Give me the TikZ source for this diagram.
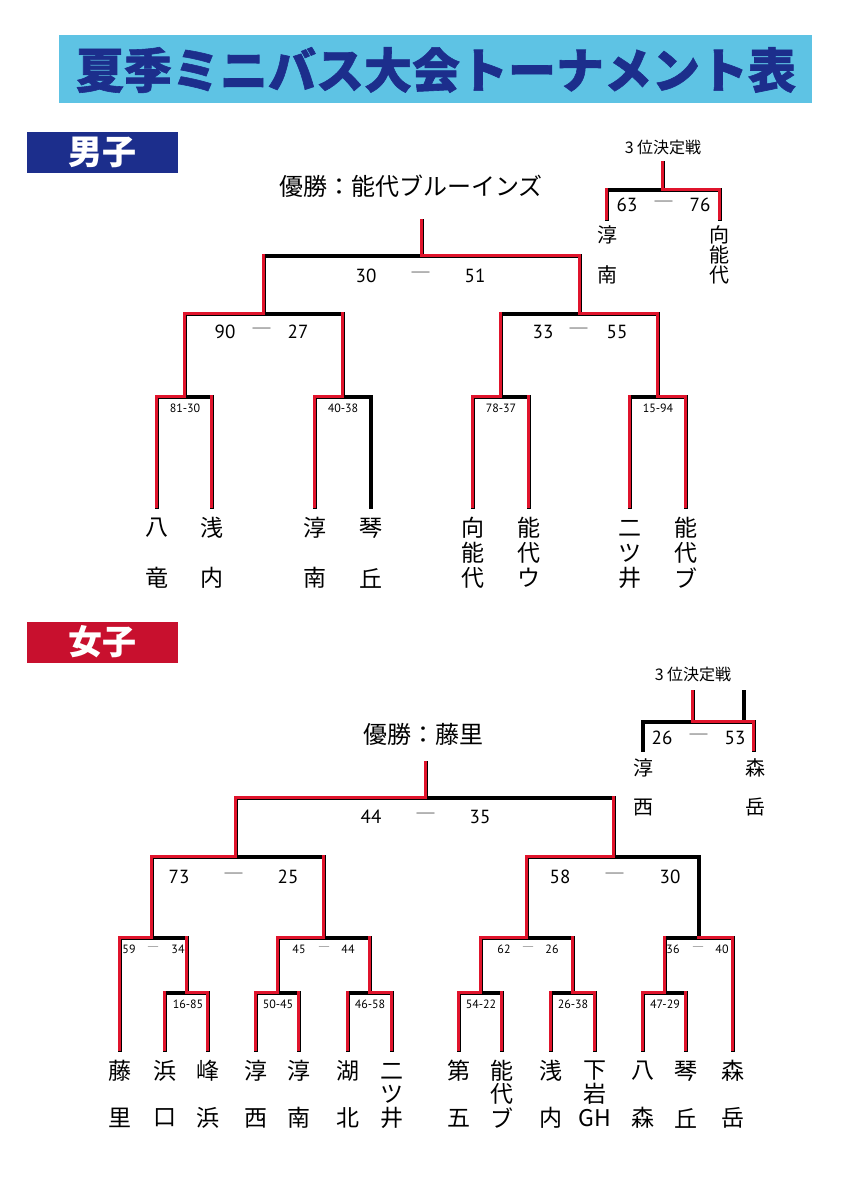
\documentclass[tikz,border=0pt]{standalone}
\usepackage{fontspec}
\setmainfont{Noto Sans CJK JP}
\newfontfamily\numfont{PT Sans}
\newfontfamily\titlefont[BoldFeatures={FakeBold=1.2}]{Noto Sans CJK JP}
\definecolor{titlebg}{HTML}{5EC3E4}
\definecolor{navy}{HTML}{1C2E8C}
\definecolor{crimson}{HTML}{C8102E}
\definecolor{lred}{HTML}{E0142C}
\definecolor{dashgray}{HTML}{5A5A5A}
\newcommand\vnII[6]{\node[nm] (#1a) at (#2,#3) {#4};\node[nm] (#1b) at (#2,#5) {#6};}
\begin{document}
\begin{tikzpicture}[x=1pt,y=-1pt,
  blk/.style={line width=4pt,black,line cap=rect,line join=miter},
  rd/.style={line width=3.4pt,lred,line cap=rect,line join=miter,shift={(-0.7,-0.7)}},
  nm/.style={font=\fontsize{23}{23}\selectfont,inner sep=0pt},
  nms/.style={font=\fontsize{20}{20}\selectfont,inner sep=0pt},
  sc/.style={font=\numfont\fontsize{19}{19}\selectfont,inner sep=0pt},
  ss/.style={font=\numfont\fontsize{12}{12}\selectfont,inner sep=0pt},
  dsh/.style={text=dashgray,font=\fontsize{21}{21}\selectfont,inner sep=0pt},
  dshs/.style={text=dashgray,font=\fontsize{12}{12}\selectfont,inner sep=0pt},
  champ/.style={font=\fontsize{24}{24}\selectfont,inner sep=0pt},
  third/.style={font=\fontsize{16}{16}\selectfont,inner sep=0pt},
  hdr/.style={font=\bfseries\fontsize{34}{34}\selectfont,text=white,inner sep=0pt}]
\useasboundingbox (0,0) rectangle (842,1191);
\fill[white] (0,0) rectangle (842,1191);
% title
\fill[titlebg] (59,35) rectangle (812,103);
\node[font=\titlefont\bfseries\fontsize{48}{48}\selectfont,text=navy,inner sep=0pt] (title) at (436,70) {夏季ミニバス大会トーナメント表};
% headers
\fill[navy] (27,132) rectangle (178,173);
\node[hdr] (boys) at (102,152) {男子};
\fill[crimson] (27,622) rectangle (178,663);
\node[hdr] (girls) at (102,642) {女子};

% ================= BOYS =================
\draw[blk] (157,507) |- (212,397) -- (212,507);  \draw[blk] (185,397) -- (185,314);
\draw[blk] (315,507) |- (371,397) -- (371,507);  \draw[blk] (343,397) -- (343,314);
\draw[blk] (473,507) |- (529,397) -- (529,507);  \draw[blk] (501,397) -- (501,314);
\draw[blk] (630,507) |- (686,397) -- (686,507);  \draw[blk] (658,397) -- (658,314);
\draw[blk] (185,314) -- (343,314);  \draw[blk] (264,314) -- (264,256);
\draw[blk] (501,314) -- (658,314);  \draw[blk] (580,314) -- (580,256);
\draw[blk] (264,256) -- (580,256);  \draw[blk] (422,256) -- (422,221);
% red paths
\draw[rd] (686,507) -- (686,397) -- (658,397) -- (658,314) -- (580,314) -- (580,256) -- (422,256) -- (422,221);
\draw[rd] (157,507) -- (157,397) -- (185,397) -- (185,314) -- (264,314) -- (264,256);
\draw[rd] (212,507) -- (212,397);
\draw[rd] (315,507) -- (315,397) -- (343,397) -- (343,314);
\draw[rd] (473,507) -- (473,397) -- (501,397) -- (501,314);
\draw[rd] (529,507) -- (529,397);
\draw[rd] (630,507) -- (630,397);
% third place boys
\draw[blk] (607,219) |- (720,190) -- (720,219);  \draw[blk] (663,190) -- (663,163);
\draw[rd] (720,219) -- (720,190) -- (663,190) -- (663,163);
\draw[rd] (607,219) -- (607,190);

% texts boys
\node[champ] (champB) at (411,186) {優勝：能代ブルーインズ};
\node[sc] (b1l) at (366,276) {30}; \node[dsh] (b1d) at (421,276) {―}; \node[sc] (b1r) at (475,276) {51};
\node[sc] (b2l) at (225,332) {90}; \node[dsh] (b2d) at (262,332) {―}; \node[sc] (b2r) at (298,332) {27};
\node[sc] (b3l) at (543,332) {33}; \node[dsh] (b3d) at (579,332) {―}; \node[sc] (b3r) at (617,332) {55};
\node[ss] (b4) at (185,408) {81-30};
\node[ss] (b5) at (343,408) {40-38};
\node[ss] (b6) at (501,408) {78-37};
\node[ss] (b7) at (658,408) {15-94};
\node[third] (b3rd) at (663,147) {3 位決定戦};
\node[sc] (b8l) at (627,205) {63}; \node[dsh] (b8d) at (664,205) {―}; \node[sc] (b8r) at (700,205) {76};
\node[nms] (t1a) at (607,235) {淳}; \node[nms] (t1b) at (607,275) {南};
\node[nms] (t2a) at (719,235) {向}; \node[nms] (t2b) at (719,255) {能}; \node[nms] (t2c) at (719,275) {代};
% boys leaves
\vnII{L1}{157}{528}{八}{578}{竜}
\vnII{L2}{212}{528}{浅}{578}{内}
\vnII{L3}{315}{528}{淳}{578}{南}
\vnII{L4}{371}{528}{琴}{578}{丘}
\node[nm] (L5a) at (473,528) {向}; \node[nm] (L5b) at (473,553) {能}; \node[nm] (L5c) at (473,578) {代};
\node[nm] (L6a) at (529,528) {能}; \node[nm] (L6b) at (529,553) {代}; \node[nm] (L6c) at (529,578) {ウ};
\node[nm] (L7a) at (630,528) {二}; \node[nm] (L7b) at (630,553) {ツ}; \node[nm] (L7c) at (630,578) {井};
\node[nm] (L8a) at (686,528) {能}; \node[nm] (L8b) at (686,553) {代}; \node[nm] (L8c) at (686,578) {ブ};

% ================= GIRLS =================
% L0 brackets
\draw[blk] (165,1050) |- (208,993) -- (208,1050); \draw[blk] (187,993) -- (187,938);
\draw[blk] (256,1050) |- (299,993) -- (299,1050); \draw[blk] (278,993) -- (278,938);
\draw[blk] (348,1050) |- (392,993) -- (392,1050); \draw[blk] (370,993) -- (370,938);
\draw[blk] (459,1050) |- (502,993) -- (502,1050); \draw[blk] (481,993) -- (481,938);
\draw[blk] (551,1050) |- (595,993) -- (595,1050); \draw[blk] (573,993) -- (573,938);
\draw[blk] (643,1050) |- (686,993) -- (686,1050); \draw[blk] (665,993) -- (665,938);
% L1
\draw[blk] (120,1050) |- (187,938); \draw[blk] (152,938) -- (152,857);
\draw[blk] (278,938) -- (370,938); \draw[blk] (324,938) -- (324,857);
\draw[blk] (481,938) -- (573,938); \draw[blk] (527,938) -- (527,857);
\draw[blk] (665,938) -- (733,938) -- (733,1050); \draw[blk] (699,938) -- (699,857);
% L2
\draw[blk] (152,857) -- (324,857); \draw[blk] (236,857) -- (236,798);
\draw[blk] (527,857) -- (699,857); \draw[blk] (614,857) -- (614,798);
% L3
\draw[blk] (236,798) -- (614,798); \draw[blk] (426,798) -- (426,763);
% red
\draw[rd] (120,1050) -- (120,938) -- (152,938) -- (152,857) -- (236,857) -- (236,798) -- (426,798) -- (426,763);
\draw[rd] (165,1050) -- (165,993);
\draw[rd] (208,1050) -- (208,993) -- (187,993) -- (187,938);
\draw[rd] (256,1050) -- (256,993) -- (278,993) -- (278,938) -- (324,938) -- (324,857);
\draw[rd] (299,1050) -- (299,993);
\draw[rd] (348,1050) -- (348,993);
\draw[rd] (392,1050) -- (392,993) -- (370,993) -- (370,938);
\draw[rd] (459,1050) -- (459,993) -- (481,993) -- (481,938) -- (527,938) -- (527,857) -- (614,857) -- (614,798);
\draw[rd] (502,1050) -- (502,993);
\draw[rd] (551,1050) -- (551,993);
\draw[rd] (595,1050) -- (595,993) -- (573,993) -- (573,938);
\draw[rd] (643,1050) -- (643,993) -- (665,993) -- (665,938);
\draw[rd] (686,1050) -- (686,993);
\draw[rd] (733,1050) -- (733,938) -- (699,938);
% third place girls
\draw[blk] (643,750) |- (754,722) -- (754,750);
\draw[blk] (693,722) -- (693,692); \draw[blk] (744,722) -- (744,692);
\draw[rd] (754,750) -- (754,722) -- (693,722) -- (693,692);

% texts girls
\node[champ] (champG) at (423,734) {優勝：藤里};
\node[sc] (g1l) at (371,817) {44}; \node[dsh] (g1d) at (426,817) {―}; \node[sc] (g1r) at (480,817) {35};
\node[sc] (g2l) at (179,877) {73}; \node[dsh] (g2d) at (234,877) {―}; \node[sc] (g2r) at (288,877) {25};
\node[sc] (g3l) at (560,877) {58}; \node[dsh] (g3d) at (615,877) {―}; \node[sc] (g3r) at (670,877) {30};
\node[ss] (g4l) at (129,949) {59}; \node[dshs] (g4d) at (153,949) {―}; \node[ss] (g4r) at (178,949) {34};
\node[ss] (g5l) at (299,949) {45}; \node[dshs] (g5d) at (324,949) {―}; \node[ss] (g5r) at (348,949) {44};
\node[ss] (g6l) at (504,949) {62}; \node[dshs] (g6d) at (528,949) {―}; \node[ss] (g6r) at (552,949) {26};
\node[ss] (g7l) at (673,949) {36}; \node[dshs] (g7d) at (698,949) {―}; \node[ss] (g7r) at (722,949) {40};
\node[ss] (g8) at (188,1004) {16-85};
\node[ss] (g9) at (278,1004) {50-45};
\node[ss] (g10) at (370,1004) {46-58};
\node[ss] (g11) at (481,1004) {54-22};
\node[ss] (g12) at (573,1004) {26-38};
\node[ss] (g13) at (665,1004) {47-29};
\node[third] (g3rd) at (693,674) {3 位決定戦};
\node[sc] (g14l) at (662,738) {26}; \node[dsh] (g14d) at (699,738) {―}; \node[sc] (g14r) at (735,738) {53};
\node[nms] (u1a) at (643,768) {淳}; \node[nms] (u1b) at (643,807) {西};
\node[nms] (u2a) at (755,768) {森}; \node[nms] (u2b) at (755,807) {岳};
% girls leaves
\vnII{G1}{120}{1071}{藤}{1118}{里}
\vnII{G2}{165}{1071}{浜}{1118}{口}
\vnII{G3}{208}{1071}{峰}{1118}{浜}
\vnII{G4}{256}{1071}{淳}{1118}{西}
\vnII{G5}{299}{1071}{淳}{1118}{南}
\vnII{G6}{348}{1071}{湖}{1118}{北}
\node[nm] (G7a) at (392,1071) {二}; \node[nm] (G7b) at (392,1094) {ツ}; \node[nm] (G7c) at (392,1118) {井};
\vnII{G8}{459}{1071}{第}{1118}{五}
\node[nm] (G9a) at (502,1071) {能}; \node[nm] (G9b) at (502,1094) {代}; \node[nm] (G9c) at (502,1118) {ブ};
\vnII{G10}{551}{1071}{浅}{1118}{内}
\node[nm] (G11a) at (595,1071) {下}; \node[nm] (G11b) at (595,1094) {岩}; \node[nm] (G11c) at (595,1118) {GH};
\vnII{G12}{643}{1071}{八}{1118}{森}
\vnII{G13}{686}{1071}{琴}{1118}{丘}
\vnII{G14}{733}{1071}{森}{1118}{岳}
\end{tikzpicture}
\end{document}
